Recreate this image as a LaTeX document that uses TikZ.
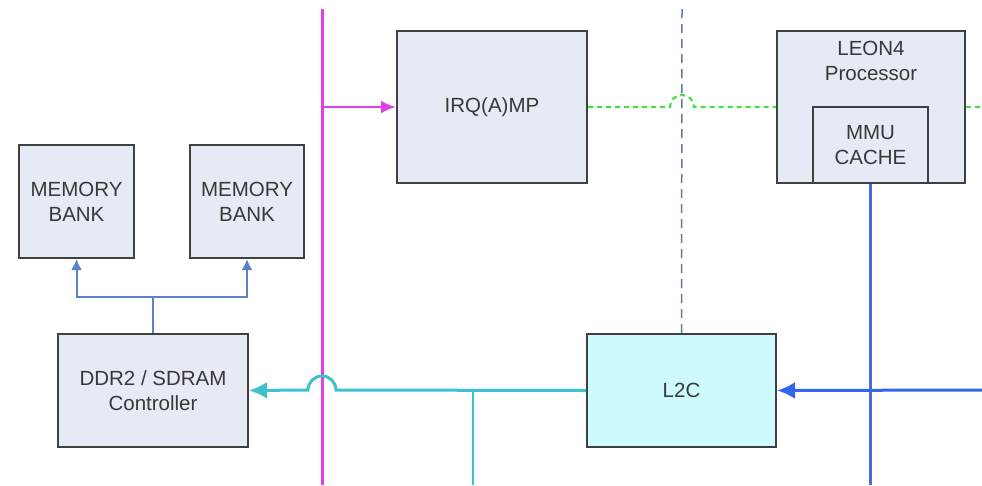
\documentclass[tikz,border=0pt]{standalone}
\usepackage{fontspec}
\setmainfont{Liberation Sans}
\usepackage{tikz}
\usetikzlibrary{arrows,arrows.meta,positioning,calc}
\definecolor{boxfill}{RGB}{230, 234, 245}
\definecolor{cachefill}{RGB}{204, 250, 255}
\definecolor{boxline}{RGB}{64, 64, 64}
\definecolor{irqmagenta}{RGB}{224, 64, 228}
\definecolor{busgreen}{RGB}{68, 221, 68}
\definecolor{dashblue}{RGB}{90, 122, 170}
\definecolor{l2cyan}{RGB}{60, 194, 204}
\definecolor{ahbblue}{RGB}{51, 102, 238}
\definecolor{mmublue}{RGB}{74, 106, 224}
\definecolor{memblue}{RGB}{90, 130, 200}

\begin{document}
\begin{tikzpicture}[x=1pt, y=-1pt,
    unit/.style={draw=boxline, fill=boxfill, line width=2pt, align=center, inner sep=0pt,
        text=black!78, font=\fontsize{20.5}{25}\selectfont},
    txt/.style={align=center, inner sep=0pt, text=black!78, font=\fontsize{20.5}{25}\selectfont}]
    \useasboundingbox (0,0) rectangle (982,485);

    % blocks
    \node[unit, minimum width=115pt, minimum height=113pt] (mem1) at (76.5, 201.5) {MEMORY\\BANK};
    \node[unit, minimum width=114pt, minimum height=113pt] (mem2) at (247, 201.5) {MEMORY\\BANK};
    \node[unit, minimum width=190pt, minimum height=113pt] (ddr) at (153, 390.5) {DDR2 / SDRAM\\Controller};
    \node[unit, minimum width=190pt, minimum height=152pt] (irq) at (492, 107) {IRQ(A)MP};
    \node[unit, minimum width=188pt, minimum height=152pt] (leon) at (871, 107) {};
    \node[txt] (leonlbl) at (871, 60.5) {LEON4\\Processor};
    \node[unit, minimum width=115pt, minimum height=76pt] (mmu) at (870.5, 145) {MMU\\CACHE};
    \node[unit, fill=cachefill, minimum width=189pt, minimum height=113pt] (l2c) at (681.5, 390.5) {L2C};

    % free ends
    \coordinate (magtop) at (322, 9);
    \coordinate (magbot) at (322, 485);
    \coordinate (magtap) at (322, 107);
    \coordinate (dashtop) at (682, 9);
    \coordinate (greenend) at (982, 107);
    \coordinate (ahbin) at (982, 390);
    \coordinate (mmubot) at (870.5, 485);
    \coordinate (cyantap) at (473, 390);
    \coordinate (cyanbot) at (473, 485);
    \coordinate (memsplit) at (153, 297);

    % buses
    \draw[irqmagenta, line width=3pt] (magtop) -- (magbot);
    \draw[irqmagenta, line width=2.6pt, -{Latex[length=15pt, width=13pt]}] (magtap) -- (irq.west);
    \draw[dashblue, line width=1.5pt, dash pattern=on 9pt off 6pt] (dashtop) -- (l2c.north);
    \draw[busgreen, line width=2.2pt, dash pattern=on 5pt off 4pt] (irq.east) -- (670, 107)
        arc[start angle=180, end angle=360, radius=12] -- (leon.west);
    \draw[busgreen, line width=2.2pt, dash pattern=on 5pt off 4pt] (leon.east) -- (greenend);
    \draw[mmublue, line width=2.6pt] (mmu.south) -- (mmubot);
    \draw[ahbblue, line width=3pt, -{Latex[length=18pt, width=17pt]}] (ahbin) -- (l2c.east);
    \draw[l2cyan, line width=3pt, -{Latex[length=18pt, width=17pt]}] (l2c.west) -- (336, 390)
        arc[start angle=0, end angle=-180, radius=14] -- (ddr.east);
    \draw[l2cyan, line width=2.6pt] (cyantap) -- (cyanbot);
    \draw[memblue, line width=2pt] (ddr.north) -- (memsplit);
    \draw[memblue, line width=2pt, -{Latex[length=11pt, width=11pt]}] (memsplit) -| (mem1.south);
    \draw[memblue, line width=2pt, -{Latex[length=11pt, width=11pt]}] (memsplit) -| (mem2.south);
\end{tikzpicture}
\end{document}
